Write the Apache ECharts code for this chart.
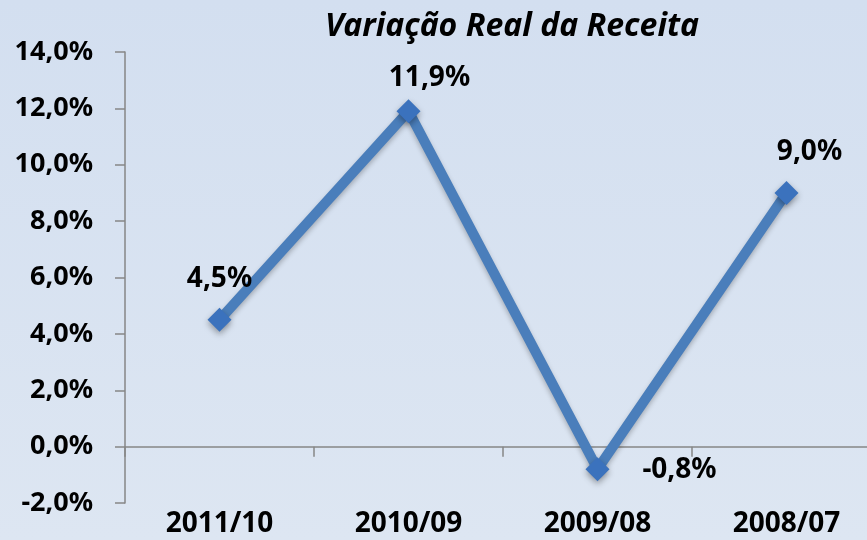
<!DOCTYPE html>
<html>
<head>
<meta charset="utf-8">
<script src="https://cdn.jsdelivr.net/npm/echarts@6/dist/echarts.min.js"></script>
<style>
  html, body { margin: 0; padding: 0; }
  #chart { width: 867px; height: 540px; }
</style>
</head>
<body>
<div id="chart"></div>
<script>
// data
const categories = ['2011/10', '2010/09', '2009/08', '2008/07']
const receita = [4.5, 11.9, -0.8, 9.0]

const fontFamily = '"Noto Sans", "Open Sans", sans-serif'
const pct = v => v.toFixed(1).replace('.', ',') + '%'

// label placement per point (offsets in px)
const labelOffsets = [[0, -10], [21, -2], [82, 32], [23, -10]]

const chart = echarts.init(document.getElementById('chart'))

const option = {
  backgroundColor: {
    type: 'linear', x: 0, y: 0, x2: 0, y2: 1,
    colorStops: [
      { offset: 0, color: '#d3dff0' },
      { offset: 1, color: '#dde6f2' }
    ]
  },
  title: {
    text: 'Variação Real da Receita',
    left: 507,
    top: 6,
    textAlign: 'center',
    textStyle: {
      fontFamily: fontFamily,
      fontStyle: 'italic',
      fontWeight: 'bold',
      fontSize: 32,
      color: '#000'
    }
  },
  grid: {
    left: 125,
    width: 756,
    top: 52,
    bottom: 37,
    containLabel: false,
    outerBoundsMode: 'none'
  },
  xAxis: [
    {
      type: 'category',
      data: categories,
      boundaryGap: true,
      axisLine: { onZero: true, lineStyle: { color: '#868686', width: 1.5 } },
      axisTick: { show: true, length: 10, lineStyle: { color: '#868686', width: 1.5 } },
      axisLabel: { show: false }
    },
    {
      type: 'category',
      data: categories,
      position: 'bottom',
      boundaryGap: true,
      axisLine: { show: false, onZero: false },
      axisTick: { show: false },
      axisLabel: {
        margin: 7,
        fontFamily: fontFamily,
        fontWeight: 'bold',
        fontSize: 28,
        color: '#000'
      }
    }
  ],
  yAxis: {
    type: 'value',
    min: -2,
    max: 14,
    interval: 2,
    splitLine: { show: false },
    axisLine: { show: true, lineStyle: { color: '#868686', width: 1.5 } },
    axisTick: { show: true, length: 10, lineStyle: { color: '#868686', width: 1.5 } },
    axisLabel: {
      margin: 32,
      formatter: pct,
      fontFamily: fontFamily,
      fontWeight: 'bold',
      fontSize: 27,
      color: '#000'
    }
  },
  series: [{
    type: 'line',
    xAxisIndex: 0,
    data: receita.map((v, i) => ({
      value: v,
      label: { offset: labelOffsets[i] }
    })),
    symbol: 'diamond',
    symbolSize: 24,
    itemStyle: {
      color: '#3b72bd',
      shadowColor: 'rgba(0, 0, 0, 0.35)',
      shadowBlur: 6,
      shadowOffsetY: 3
    },
    lineStyle: {
      color: '#4a7ebb',
      width: 10,
      shadowColor: 'rgba(0, 0, 0, 0.25)',
      shadowBlur: 5,
      shadowOffsetY: 3
    },
    label: {
      show: true,
      position: 'top',
      formatter: p => pct(p.value),
      fontFamily: fontFamily,
      fontWeight: 'bold',
      fontSize: 28,
      color: '#000'
    },
    animation: false
  }]
}

chart.setOption(option)
</script>
</body>
</html>
